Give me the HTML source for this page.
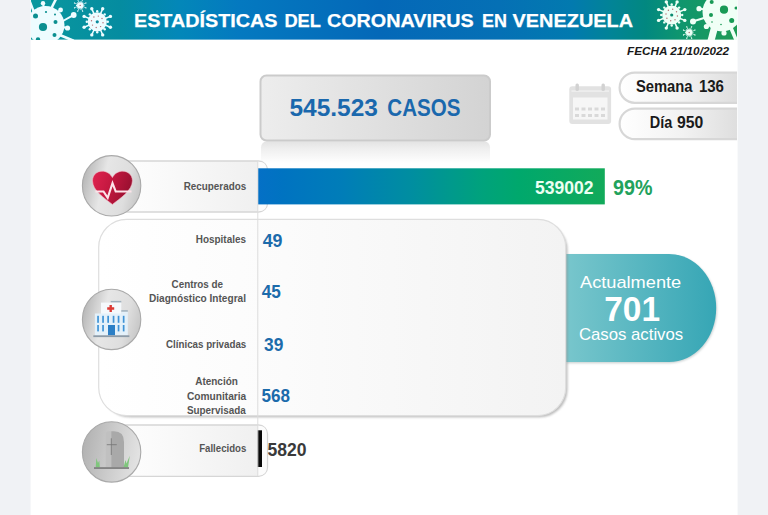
<!DOCTYPE html>
<html lang="es">
<head>
<meta charset="utf-8">
<title>Estadísticas del Coronavirus en Venezuela</title>
<style>
  html, body { margin: 0; padding: 0; background: #f0f2f5; }
  body { width: 768px; height: 515px; overflow: hidden; position: relative; }
  svg { position: absolute; left: 0; top: 0; display: block; }
  text { font-family: "Liberation Sans", sans-serif; }
  .b { font-weight: bold; }
  .lbl { font-weight: bold; font-size: 11.2px; fill: #555555; }
  .num { font-weight: bold; font-size: 17.8px; fill: #1c6bab; }
</style>
</head>
<body>
<svg width="768" height="515" viewBox="0 0 768 515">
  <defs>
    <linearGradient id="hdr" x1="0" y1="0" x2="1" y2="0">
      <stop offset="0" stop-color="#0a989e"/>
      <stop offset="0.126" stop-color="#058ca0"/>
      <stop offset="0.211" stop-color="#0387b9"/>
      <stop offset="0.296" stop-color="#0479c0"/>
      <stop offset="0.494" stop-color="#0468b8"/>
      <stop offset="0.664" stop-color="#0570b5"/>
      <stop offset="0.766" stop-color="#027aaf"/>
      <stop offset="0.823" stop-color="#028496"/>
      <stop offset="0.871" stop-color="#028880"/>
      <stop offset="0.92" stop-color="#0f966e"/>
      <stop offset="1" stop-color="#1f9b55"/>
    </linearGradient>
    <linearGradient id="bar" x1="0" y1="0" x2="1" y2="0">
      <stop offset="0" stop-color="#0470c6"/>
      <stop offset="0.07" stop-color="#0073c1"/>
      <stop offset="0.242" stop-color="#007db8"/>
      <stop offset="0.444" stop-color="#008ea0"/>
      <stop offset="0.646" stop-color="#00a27c"/>
      <stop offset="0.755" stop-color="#00a86c"/>
      <stop offset="1" stop-color="#12aa5a"/>
    </linearGradient>
    <linearGradient id="box" x1="0" y1="0" x2="1" y2="0">
      <stop offset="0" stop-color="#ededed"/>
      <stop offset="1" stop-color="#d3d3d3"/>
    </linearGradient>
    <linearGradient id="pill" x1="0" y1="0" x2="1" y2="0">
      <stop offset="0" stop-color="#ffffff"/>
      <stop offset="0.45" stop-color="#f2f2f2"/>
      <stop offset="1" stop-color="#d6d6d6"/>
    </linearGradient>
    <linearGradient id="panel" x1="0" y1="0" x2="1" y2="0">
      <stop offset="0" stop-color="#ffffff"/>
      <stop offset="0.4" stop-color="#fbfbfb"/>
      <stop offset="1" stop-color="#f3f3f3"/>
    </linearGradient>
    <linearGradient id="rowpill" x1="0" y1="0" x2="1" y2="0">
      <stop offset="0" stop-color="#ffffff"/>
      <stop offset="0.3" stop-color="#fbfbfb"/>
      <stop offset="0.94" stop-color="#f0f0f0"/>
      <stop offset="1" stop-color="#f0f0f0"/>
    </linearGradient>
    <linearGradient id="teal" x1="0" y1="0" x2="1" y2="0">
      <stop offset="0" stop-color="#78c6cc"/>
      <stop offset="1" stop-color="#36a6b5"/>
    </linearGradient>
    <linearGradient id="circ" x1="0" y1="0.35" x2="1" y2="0.6">
      <stop offset="0" stop-color="#b6b6b6"/>
      <stop offset="0.36" stop-color="#e6e6e6"/>
      <stop offset="0.75" stop-color="#dedede"/>
      <stop offset="1" stop-color="#c6c6c6"/>
    </linearGradient>
    <linearGradient id="circ2" x1="0" y1="0.4" x2="1" y2="0.6">
      <stop offset="0" stop-color="#b2b2b2"/>
      <stop offset="0.5" stop-color="#cccccc"/>
      <stop offset="1" stop-color="#e4e4e4"/>
    </linearGradient>
    <linearGradient id="rim" x1="0" y1="0.3" x2="1" y2="0.7">
      <stop offset="0" stop-color="#a6a6a6"/>
      <stop offset="0.5" stop-color="#c4c4c4"/>
      <stop offset="1" stop-color="#dedede"/>
    </linearGradient>
    <linearGradient id="heart" x1="0" y1="0" x2="1" y2="0.3">
      <stop offset="0" stop-color="#e0234f"/>
      <stop offset="0.5" stop-color="#c41840"/>
      <stop offset="1" stop-color="#9a1030"/>
    </linearGradient>
    <linearGradient id="refl" x1="0" y1="0" x2="0" y2="1">
      <stop offset="0" stop-color="#e3e3e3"/>
      <stop offset="0.3" stop-color="#efefef"/>
      <stop offset="0.85" stop-color="#ffffff"/>
    </linearGradient>
    <filter id="sh" x="-5%" y="-5%" width="110%" height="112%">
      <feGaussianBlur stdDeviation="1.2"/>
    </filter>
    <clipPath id="page"><rect x="31" y="0" width="706" height="515"/></clipPath>
    <clipPath id="hclip"><rect x="31" y="0" width="706" height="40"/></clipPath>
  </defs>

  <!-- white page -->
  <rect x="30.6" y="0" width="707" height="515" fill="#ffffff"/>

  <!-- header -->
  <rect x="31" y="0" width="706" height="39.6" fill="url(#hdr)"/>
  <g id="viruses" clip-path="url(#hclip)">
<g fill="#eefcff" stroke="#eefcff" stroke-linecap="round">
<line x1="105.7" y1="25.3" x2="110.4" y2="27.2" stroke-width="1.5"/>
<circle cx="110.4" cy="27.2" r="1.7" stroke="none"/>
<circle cx="107.8" cy="21.8" r="1.2" stroke="none"/>
<line x1="100.7" y1="30.2" x2="102.7" y2="34.9" stroke-width="1.5"/>
<circle cx="102.7" cy="34.9" r="1.7" stroke="none"/>
<circle cx="104.7" cy="29.2" r="1.2" stroke="none"/>
<line x1="93.8" y1="30.2" x2="91.8" y2="34.9" stroke-width="1.5"/>
<circle cx="91.8" cy="34.9" r="1.7" stroke="none"/>
<circle cx="97.2" cy="32.3" r="1.2" stroke="none"/>
<line x1="88.8" y1="25.3" x2="84.1" y2="27.2" stroke-width="1.5"/>
<circle cx="84.1" cy="27.2" r="1.7" stroke="none"/>
<circle cx="89.8" cy="29.2" r="1.2" stroke="none"/>
<line x1="88.8" y1="18.3" x2="84.1" y2="16.4" stroke-width="1.5"/>
<circle cx="84.1" cy="16.4" r="1.7" stroke="none"/>
<circle cx="86.8" cy="21.8" r="1.2" stroke="none"/>
<line x1="93.8" y1="13.4" x2="91.8" y2="8.7" stroke-width="1.5"/>
<circle cx="91.8" cy="8.7" r="1.7" stroke="none"/>
<circle cx="89.8" cy="14.4" r="1.2" stroke="none"/>
<line x1="100.7" y1="13.4" x2="102.7" y2="8.7" stroke-width="1.5"/>
<circle cx="102.7" cy="8.7" r="1.7" stroke="none"/>
<circle cx="97.2" cy="11.3" r="1.2" stroke="none"/>
<line x1="105.7" y1="18.3" x2="110.4" y2="16.4" stroke-width="1.5"/>
<circle cx="110.4" cy="16.4" r="1.7" stroke="none"/>
<circle cx="104.7" cy="14.4" r="1.2" stroke="none"/>
<circle cx="97.25" cy="21.8" r="9.6" stroke="none"/>
</g>
<circle cx="97.25" cy="21.8" r="1.6" fill="#0a8a9c"/>
<g fill="#b56a70">
<circle cx="103.0" cy="22.8" r="0.7"/>
<circle cx="100.6" cy="26.6" r="0.7"/>
<circle cx="96.2" cy="27.5" r="0.7"/>
<circle cx="92.5" cy="25.1" r="0.7"/>
<circle cx="91.5" cy="20.8" r="0.7"/>
<circle cx="93.9" cy="17.0" r="0.7"/>
<circle cx="98.3" cy="16.1" r="0.7"/>
<circle cx="102.0" cy="18.5" r="0.7"/>
</g>
<g fill="#eefcff" stroke="#eefcff" stroke-linecap="round">
<line x1="82.7" y1="6.4" x2="85.9" y2="7.8" stroke-width="0.7"/>
<circle cx="85.9" cy="7.8" r="0.6" stroke="none"/>
<circle cx="83.9" cy="5.4" r="0.55" stroke="none"/>
<line x1="81.2" y1="7.9" x2="82.6" y2="11.1" stroke-width="0.7"/>
<circle cx="82.6" cy="11.1" r="0.6" stroke="none"/>
<circle cx="82.8" cy="8.0" r="0.55" stroke="none"/>
<line x1="79.2" y1="7.9" x2="77.8" y2="11.1" stroke-width="0.7"/>
<circle cx="77.8" cy="11.1" r="0.6" stroke="none"/>
<circle cx="80.2" cy="9.1" r="0.55" stroke="none"/>
<line x1="77.7" y1="6.4" x2="74.5" y2="7.8" stroke-width="0.7"/>
<circle cx="74.5" cy="7.8" r="0.6" stroke="none"/>
<circle cx="77.6" cy="8.0" r="0.55" stroke="none"/>
<line x1="77.7" y1="4.4" x2="74.5" y2="3.0" stroke-width="0.7"/>
<circle cx="74.5" cy="3.0" r="0.6" stroke="none"/>
<circle cx="76.5" cy="5.4" r="0.55" stroke="none"/>
<line x1="79.2" y1="2.9" x2="77.8" y2="-0.3" stroke-width="0.7"/>
<circle cx="77.8" cy="-0.3" r="0.6" stroke="none"/>
<circle cx="77.6" cy="2.8" r="0.55" stroke="none"/>
<line x1="81.2" y1="2.9" x2="82.6" y2="-0.3" stroke-width="0.7"/>
<circle cx="82.6" cy="-0.3" r="0.6" stroke="none"/>
<circle cx="80.2" cy="1.7" r="0.55" stroke="none"/>
<line x1="82.7" y1="4.4" x2="85.9" y2="3.0" stroke-width="0.7"/>
<circle cx="85.9" cy="3.0" r="0.6" stroke="none"/>
<circle cx="82.8" cy="2.8" r="0.55" stroke="none"/>
<circle cx="80.2" cy="5.4" r="3.2" stroke="none"/>
</g>
<circle cx="80.2" cy="5.4" r="0.7" fill="#b56a70"/>
<g fill="#ecfff6" stroke="#ecfff6" stroke-linecap="round">
<line x1="680.1" y1="18.5" x2="684.8" y2="20.4" stroke-width="1.5"/>
<circle cx="684.8" cy="20.4" r="1.7" stroke="none"/>
<circle cx="682.2" cy="15.0" r="1.2" stroke="none"/>
<line x1="675.2" y1="23.4" x2="677.1" y2="28.1" stroke-width="1.5"/>
<circle cx="677.1" cy="28.1" r="1.7" stroke="none"/>
<circle cx="679.1" cy="22.4" r="1.2" stroke="none"/>
<line x1="668.2" y1="23.4" x2="666.3" y2="28.1" stroke-width="1.5"/>
<circle cx="666.3" cy="28.1" r="1.7" stroke="none"/>
<circle cx="671.7" cy="25.5" r="1.2" stroke="none"/>
<line x1="663.3" y1="18.5" x2="658.6" y2="20.4" stroke-width="1.5"/>
<circle cx="658.6" cy="20.4" r="1.7" stroke="none"/>
<circle cx="664.3" cy="22.4" r="1.2" stroke="none"/>
<line x1="663.3" y1="11.5" x2="658.6" y2="9.6" stroke-width="1.5"/>
<circle cx="658.6" cy="9.6" r="1.7" stroke="none"/>
<circle cx="661.2" cy="15.0" r="1.2" stroke="none"/>
<line x1="668.2" y1="6.6" x2="666.3" y2="1.9" stroke-width="1.5"/>
<circle cx="666.3" cy="1.9" r="1.7" stroke="none"/>
<circle cx="664.3" cy="7.6" r="1.2" stroke="none"/>
<line x1="675.2" y1="6.6" x2="677.1" y2="1.9" stroke-width="1.5"/>
<circle cx="677.1" cy="1.9" r="1.7" stroke="none"/>
<circle cx="671.7" cy="4.5" r="1.2" stroke="none"/>
<line x1="680.1" y1="11.5" x2="684.8" y2="9.6" stroke-width="1.5"/>
<circle cx="684.8" cy="9.6" r="1.7" stroke="none"/>
<circle cx="679.1" cy="7.6" r="1.2" stroke="none"/>
<circle cx="671.7" cy="15" r="9.6" stroke="none"/>
</g>
<circle cx="671.7" cy="15" r="1.6" fill="#0a8a70"/>
<g fill="#b56a70">
<circle cx="677.4" cy="16.0" r="0.7"/>
<circle cx="675.0" cy="19.8" r="0.7"/>
<circle cx="670.7" cy="20.7" r="0.7"/>
<circle cx="666.9" cy="18.3" r="0.7"/>
<circle cx="666.0" cy="14.0" r="0.7"/>
<circle cx="668.4" cy="10.2" r="0.7"/>
<circle cx="672.7" cy="9.3" r="0.7"/>
<circle cx="676.5" cy="11.7" r="0.7"/>
</g>
<g fill="#ecfff6" stroke="#ecfff6" stroke-linecap="round">
<line x1="691.7" y1="33.5" x2="694.9" y2="34.9" stroke-width="0.7"/>
<circle cx="694.9" cy="34.9" r="0.6" stroke="none"/>
<circle cx="692.9" cy="32.5" r="0.55" stroke="none"/>
<line x1="690.2" y1="35.0" x2="691.6" y2="38.2" stroke-width="0.7"/>
<circle cx="691.6" cy="38.2" r="0.6" stroke="none"/>
<circle cx="691.8" cy="35.1" r="0.55" stroke="none"/>
<line x1="688.2" y1="35.0" x2="686.8" y2="38.2" stroke-width="0.7"/>
<circle cx="686.8" cy="38.2" r="0.6" stroke="none"/>
<circle cx="689.2" cy="36.2" r="0.55" stroke="none"/>
<line x1="686.7" y1="33.5" x2="683.5" y2="34.9" stroke-width="0.7"/>
<circle cx="683.5" cy="34.9" r="0.6" stroke="none"/>
<circle cx="686.6" cy="35.1" r="0.55" stroke="none"/>
<line x1="686.7" y1="31.5" x2="683.5" y2="30.1" stroke-width="0.7"/>
<circle cx="683.5" cy="30.1" r="0.6" stroke="none"/>
<circle cx="685.5" cy="32.5" r="0.55" stroke="none"/>
<line x1="688.2" y1="30.0" x2="686.8" y2="26.8" stroke-width="0.7"/>
<circle cx="686.8" cy="26.8" r="0.6" stroke="none"/>
<circle cx="686.6" cy="29.9" r="0.55" stroke="none"/>
<line x1="690.2" y1="30.0" x2="691.6" y2="26.8" stroke-width="0.7"/>
<circle cx="691.6" cy="26.8" r="0.6" stroke="none"/>
<circle cx="689.2" cy="28.8" r="0.55" stroke="none"/>
<line x1="691.7" y1="31.5" x2="694.9" y2="30.1" stroke-width="0.7"/>
<circle cx="694.9" cy="30.1" r="0.6" stroke="none"/>
<circle cx="691.8" cy="29.9" r="0.55" stroke="none"/>
<circle cx="689.2" cy="32.5" r="3.2" stroke="none"/>
</g>
<circle cx="689.2" cy="32.5" r="0.7" fill="#b56a70"/>

<g fill="#eefcff" stroke="#eefcff" stroke-linecap="round">
  <line x1="44" y1="8" x2="43" y2="3.4" stroke-width="2"/><circle cx="43" cy="3.2" r="2.2" stroke="none"/>
  <line x1="51" y1="9" x2="56.5" y2="-2" stroke-width="2.6"/>
  <line x1="33.5" y1="11" x2="30" y2="2" stroke-width="2.4"/>
  <line x1="57" y1="12.5" x2="60.4" y2="10.2" stroke-width="2"/><circle cx="60.6" cy="10" r="2.4" stroke="none"/>
  <line x1="62" y1="21.5" x2="73" y2="15.4" stroke-width="2"/><circle cx="73.7" cy="15" r="2.9" stroke="none"/>
  <line x1="63" y1="27" x2="67" y2="28" stroke-width="2"/><circle cx="67.5" cy="28" r="2.6" stroke="none"/>
  <line x1="61" y1="35.5" x2="73" y2="40.5" stroke-width="2.6"/>
  <circle cx="45.5" cy="25" r="19" stroke="none"/>
</g>
<g fill="#0b8f90">
  <circle cx="43" cy="27" r="4.1"/><circle cx="35.5" cy="16" r="2.5"/><circle cx="55.5" cy="22" r="2"/>
  <circle cx="54.5" cy="35" r="2"/><circle cx="46" cy="12" r="1.1"/><circle cx="55" cy="14.5" r="1"/><circle cx="38" cy="39.5" r="2.2"/>
</g>
<g fill="#f0fff6" stroke="#f0fff6" stroke-linecap="round">
  <line x1="704" y1="18" x2="693.5" y2="21.3" stroke-width="2"/><circle cx="693" cy="21.5" r="3" stroke="none"/>
  <line x1="703.5" y1="9.2" x2="699.5" y2="8.8" stroke-width="2"/><circle cx="699" cy="8.7" r="2.6" stroke="none"/>
  <circle cx="706.4" cy="26.5" r="2.6" stroke="none"/>
  <circle cx="724" cy="33" r="2.6" stroke="none"/>
  <line x1="714.6" y1="27" x2="710.8" y2="41.5" stroke-width="7" stroke-linecap="butt"/>
  <line x1="731" y1="28" x2="736.5" y2="41" stroke-width="3.6"/>
  <circle cx="722" cy="12" r="19.5" stroke="none"/>
</g>
<g fill="#189a55">
  <circle cx="724" cy="9.7" r="4.1"/><circle cx="711.7" cy="2" r="2"/><circle cx="711" cy="15" r="2"/>
  <circle cx="731.7" cy="20.6" r="2.5"/><circle cx="736" cy="8" r="1.5"/><circle cx="712" cy="22" r="0.8"/><circle cx="721" cy="24.5" r="0.8"/>
</g>

</g>

  <g class="b" fill="#ffffff" stroke="#ffffff" stroke-width="0.25" font-size="18.9px">
    <text x="134" y="27" textLength="143.5" lengthAdjust="spacingAndGlyphs">ESTADÍSTICAS</text>
    <text x="284.4" y="27" textLength="36.6" lengthAdjust="spacingAndGlyphs">DEL</text>
    <text x="326.9" y="27" textLength="146.8" lengthAdjust="spacingAndGlyphs">CORONAVIRUS</text>
    <text x="481.9" y="27" textLength="25" lengthAdjust="spacingAndGlyphs">EN</text>
    <text x="512.5" y="27" textLength="120.6" lengthAdjust="spacingAndGlyphs">VENEZUELA</text>
  </g>

  <text x="627" y="54.5" textLength="102" lengthAdjust="spacingAndGlyphs" font-size="11.6px" font-weight="bold" font-style="italic" fill="#1a1a1a">FECHA 21/10/2022</text>

  <!-- vertical divider -->

  <!-- cases box -->
  <rect x="261" y="141.2" width="229" height="26" rx="6" fill="url(#refl)"/>
  <rect x="260.5" y="75.5" width="229.5" height="65" rx="6" fill="url(#box)" stroke="#cbcbcb" stroke-width="2"/>
  <g class="b" font-size="24.5px" fill="#1a68ad">
    <text x="289.4" y="116.2" textLength="88.6" lengthAdjust="spacingAndGlyphs">545.523</text>
    <text x="387.3" y="116.2" textLength="73.1" lengthAdjust="spacingAndGlyphs">CASOS</text>
  </g>

  <!-- calendar icon -->
  <g id="cal">
    <rect x="569.3" y="86.3" width="41.8" height="37.8" rx="3" fill="#e2e2e2"/>
    <rect x="571.5" y="90.3" width="37.5" height="1.6" fill="#efefef"/>
    <rect x="573" y="97.5" width="34.5" height="22" fill="#f6f6f6"/>
    <rect x="575.5" y="83.5" width="3.4" height="7.5" rx="1.5" fill="#d2d2d2"/>
    <rect x="601.5" y="83.5" width="3.4" height="7.5" rx="1.5" fill="#d2d2d2"/>
    <g fill="#d9d9d9">
      <rect x="575" y="107.5" width="4" height="3"/><rect x="581.5" y="107.5" width="4" height="3"/><rect x="588" y="107.5" width="4" height="3"/><rect x="594.5" y="107.5" width="4" height="3"/><rect x="601" y="107.5" width="4" height="3"/>
      <rect x="575" y="114" width="4" height="3"/><rect x="581.5" y="114" width="4" height="3"/><rect x="588" y="114" width="4" height="3"/><rect x="594.5" y="114" width="4" height="3"/><rect x="601" y="114" width="4" height="3"/>
    </g>
  </g>

  <!-- semana / dia pills -->
  <g clip-path="url(#page)">
    <rect x="619.6" y="72.6" width="140" height="30.2" rx="15.1" fill="url(#pill)" stroke="#d7d7d7" stroke-width="2.2"/>
    <rect x="619.6" y="108.6" width="140" height="30.6" rx="15.3" fill="url(#pill)" stroke="#d7d7d7" stroke-width="2.2"/>
  </g>
  <g class="b" font-size="16.3px" fill="#1a1a1a">
    <text x="635.9" y="91.9" textLength="56.7" lengthAdjust="spacingAndGlyphs">Semana</text>
    <text x="698.9" y="91.9" textLength="25.1" lengthAdjust="spacingAndGlyphs">136</text>
    <text x="649.7" y="128.2" textLength="22.5" lengthAdjust="spacingAndGlyphs">Día</text>
    <text x="677.1" y="128.2" textLength="26.3" lengthAdjust="spacingAndGlyphs">950</text>
  </g>
  

  <!-- teal pill shapes (behind panel) -->
  <path d="M566 255.2 H669.5 A47.5 54 0 0 1 669.5 363.2 H566 Z" fill="#8a9a9c" opacity="0.45" filter="url(#sh)"/>
  <path d="M566 254 H669 A47.2 54 0 0 1 669 362 H566 Z" fill="url(#teal)"/>
  <!-- big panel -->
  <rect x="102" y="222" width="465.5" height="195.3" rx="28" fill="#8e8e8e" opacity="0.6" filter="url(#sh)"/>
  <rect x="98.7" y="219.3" width="467" height="196.3" rx="28" fill="url(#panel)" stroke="#dedede" stroke-width="1.2"/>

  <!-- recuperados row -->
  <rect x="100" y="161" width="167.5" height="51" rx="9" fill="url(#rowpill)" stroke="#d6d6d6" stroke-width="1.3"/>
  <path d="M258 161.7 H258.5 Q266.8 161.7 266.8 170 V203 Q266.8 211.3 258.5 211.3 H258 Z" fill="#fcfcfc"/>
  <rect x="258" y="168.3" width="346.8" height="36.1" fill="url(#bar)"/>
  <text x="183.7" y="189.7" textLength="62.5" lengthAdjust="spacingAndGlyphs" class="lbl">Recuperados</text>
  <text x="535" y="193.6" textLength="58.6" lengthAdjust="spacingAndGlyphs" class="b" font-size="18.2px" fill="#ecfff2">539002</text>
  <text x="613.1" y="195" textLength="39.4" lengthAdjust="spacingAndGlyphs" class="b" font-size="22.4px" fill="#22a25c">99%</text>

  <!-- fallecidos row -->
  <rect x="100" y="425" width="167.5" height="51.3" rx="9" fill="url(#rowpill)" stroke="#d6d6d6" stroke-width="1.3"/>
  <path d="M258 425.7 H258.5 Q266.8 425.7 266.8 434 V467.3 Q266.8 475.6 258.5 475.6 H258 Z" fill="#fcfcfc"/>
  <rect x="257.5" y="430.3" width="4.5" height="36.7" fill="#0a0a0a"/>
  <text x="199.2" y="452.2" textLength="47.1" lengthAdjust="spacingAndGlyphs" class="lbl">Fallecidos</text>
  <text x="267.6" y="456.1" textLength="39" lengthAdjust="spacingAndGlyphs" class="b" font-size="18.3px" fill="#3a3a3a">5820</text>

  <!-- vertical divider over panel -->
  <rect x="257.3" y="161.5" width="1" height="314.5" fill="#dcdcdc"/>

  <!-- panel labels -->
  <text x="195.8" y="242.7" textLength="50.2" lengthAdjust="spacingAndGlyphs" class="lbl">Hospitales</text>
  <text x="262.7" y="246.7" textLength="19.8" lengthAdjust="spacingAndGlyphs" class="num">49</text>
  <text x="171.5" y="287.9" textLength="51.6" lengthAdjust="spacingAndGlyphs" class="lbl">Centros de</text>
  <text x="149" y="301.8" textLength="97" lengthAdjust="spacingAndGlyphs" class="lbl">Diagnóstico Integral</text>
  <text x="261.7" y="298.4" textLength="19.1" lengthAdjust="spacingAndGlyphs" class="num">45</text>
  <text x="166" y="347.7" textLength="80.3" lengthAdjust="spacingAndGlyphs" class="lbl">Clínicas privadas</text>
  <text x="264" y="350.7" textLength="19.3" lengthAdjust="spacingAndGlyphs" class="num">39</text>
  <text x="195.2" y="385.2" textLength="42.7" lengthAdjust="spacingAndGlyphs" class="lbl">Atención</text>
  <text x="186.9" y="399.8" textLength="59.4" lengthAdjust="spacingAndGlyphs" class="lbl">Comunitaria</text>
  <text x="186.9" y="413.8" textLength="58.9" lengthAdjust="spacingAndGlyphs" class="lbl">Supervisada</text>
  <text x="261.5" y="402.4" textLength="28.5" lengthAdjust="spacingAndGlyphs" class="num">568</text>

  <!-- teal pill -->
  <text x="580" y="288" textLength="101.2" lengthAdjust="spacingAndGlyphs" font-size="16.2px" fill="#ffffff">Actualmente</text>
  <text x="604.2" y="320.6" textLength="55.8" lengthAdjust="spacingAndGlyphs" class="b" font-size="34.8px" fill="#ffffff">701</text>
  <text x="578.9" y="339.9" textLength="104.3" lengthAdjust="spacingAndGlyphs" font-size="16.6px" fill="#ffffff">Casos activos</text>

  <!-- icon circles -->
  <g id="ic-heart">
    <ellipse cx="111.6" cy="185.8" rx="29.2" ry="30.2" fill="url(#circ)" stroke="#a9a9a9" stroke-width="1.1"/>
    <path d="M112.4 204.4 C 104.6 198.3 92.5 190.5 92.5 180.8 C 92.5 174.8 97 171.2 102 171.2 C 106.5 171.2 110.4 173.6 112.4 177.6 C 114.4 173.6 118.3 171.2 122.8 171.2 C 127.8 171.2 132.4 174.8 132.4 180.8 C 132.4 190.5 120.2 198.3 112.4 204.4 Z" fill="url(#heart)" stroke="#f3b9c6" stroke-width="0.6"/>
    <path d="M95.5 191.5 H103.5 L107.7 197.8 L112.5 183.2 L115.7 191.5 H131.5" fill="none" stroke="#fde3e9" stroke-width="2.1" stroke-linejoin="miter"/>
  </g>
  <g id="ic-hosp">
    <ellipse cx="111.6" cy="319.4" rx="29.2" ry="30.2" fill="url(#circ)" stroke="#a9a9a9" stroke-width="1.1"/>
    <rect x="110.7" y="300.9" width="10.6" height="1.7" fill="#9fb0bd"/>
    <rect x="101" y="302.6" width="20.3" height="12" fill="#f5f9fc"/>
    <rect x="121.3" y="310.2" width="6.5" height="1.6" fill="#9fb0bd"/>
    <rect x="94.9" y="313.5" width="32.9" height="21.8" fill="#e4f1fa"/>
    <rect x="121.3" y="311.8" width="6.5" height="2" fill="#e4f1fa"/>
    <path d="M109.5 305 h2.4 v2.3 h2.3 v2.4 h-2.3 v2.3 h-2.4 v-2.3 h-2.3 v-2.4 h2.3 z" fill="#dc3a35"/>
    <g fill="#3f93d6">
      <rect x="97.2" y="315.8" width="1.7" height="7"/><rect x="102.2" y="315.8" width="1.7" height="7"/><rect x="107.3" y="315.8" width="1.7" height="7"/><rect x="112.7" y="315.8" width="1.7" height="7"/><rect x="117.7" y="315.8" width="1.7" height="7"/><rect x="122.8" y="315.8" width="1.7" height="7"/>
      <rect x="97.2" y="325" width="1.7" height="6.4"/><rect x="102.2" y="325" width="1.7" height="6.4"/><rect x="117.7" y="325" width="1.7" height="6.4"/><rect x="122.8" y="325" width="1.7" height="6.4"/>
    </g>
    <rect x="108" y="325" width="7" height="10.3" fill="#2b7fc6"/>
    <rect x="93.3" y="335.3" width="36.1" height="1.8" fill="#8c9ba8"/>
  </g>
  <g id="ic-tomb">
    <ellipse cx="111.6" cy="451.9" rx="29.2" ry="30.2" fill="url(#circ2)" stroke="#a9a9a9" stroke-width="1.1"/>
    <path d="M105.7 467.5 V434 Q105.7 431.3 108.5 431.3 H111.3 V467.5 Z" fill="#c0c0c0"/>
    <path d="M111.3 467.5 V431.3 H114 Q124 431.3 124 442 V467.5 Z" fill="#a9a9a9"/>
    <path d="M111.3 438.3 V455 M106.8 444.7 H116.8" stroke="#747474" stroke-width="0.8" fill="none"/>
    <path d="M95.7 467.5 L96.3 458 L98 463 L99.3 460.5 L99.8 467.5 Z" fill="#7fc67c"/>
    <path d="M123.5 467.5 L125.5 460 L126.5 463.5 L129.8 455.8 L128 467.5 Z" fill="#7fc67c"/>
    <rect x="94" y="467.2" width="35" height="1.7" fill="#7d7d7d"/>
  </g>
</svg>
</body>
</html>
